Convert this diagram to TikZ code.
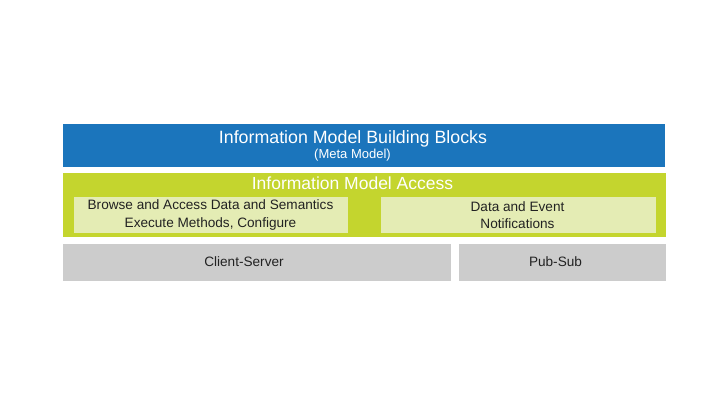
\documentclass[tikz,border=0pt]{standalone}
\usepackage{fontspec}
\setmainfont{Liberation Sans}
\definecolor{imblue}{HTML}{1B75BC}
\definecolor{imgreen}{HTML}{C4D52E}
\definecolor{imlight}{HTML}{E4ECB4}
\definecolor{imgray}{HTML}{CCCCCC}
\definecolor{imtext}{HTML}{222222}
\tikzset{
  box/.style={draw=none, anchor=north west, inner sep=0pt, outer sep=0pt},
  whitetxt/.style={text=white, inner sep=0pt},
  darktxt/.style={text=imtext, inner sep=0pt, align=center, font=\fontsize{13.6}{17.5}\selectfont},
}
\begin{document}
\begin{tikzpicture}[x=1pt,y=-1pt]
\useasboundingbox (0,0) rectangle (720,405);
\node[box, fill=imblue, minimum width=602pt, minimum height=43pt] (blue) at (63,124) {};
\node[whitetxt, font=\fontsize{17.8}{20}\selectfont] (title) at (353,138.5) {Information Model Building Blocks};
\node[whitetxt, font=\fontsize{13}{14}\selectfont] (meta) at (352.5,155.5) {(Meta Model)};
\node[box, fill=imgreen, minimum width=603pt, minimum height=64pt] (green) at (63,173) {};
\node[whitetxt, font=\fontsize{17.5}{20}\selectfont] (access) at (352.5,183.5) {Information Model Access};
\node[box, fill=imlight, minimum width=274pt, minimum height=36pt] (left) at (74,197) {};
\node[darktxt] (lefttxt) at (210.5,215) {Browse and Access Data and Semantics\\Execute Methods, Configure};
\node[box, fill=imlight, minimum width=275pt, minimum height=36pt] (right) at (381,197) {};
\node[darktxt] (righttxt) at (517.5,215) {Data and Event\\Notifications};
\node[box, fill=imgray, minimum width=388pt, minimum height=37pt] (cs) at (63,244) {};
\node[darktxt] (cstxt) at (244,262) {Client-Server};
\node[box, fill=imgray, minimum width=207pt, minimum height=37pt] (ps) at (459,244) {};
\node[darktxt] (pstxt) at (555.5,262) {Pub-Sub};
\end{tikzpicture}
\end{document}
